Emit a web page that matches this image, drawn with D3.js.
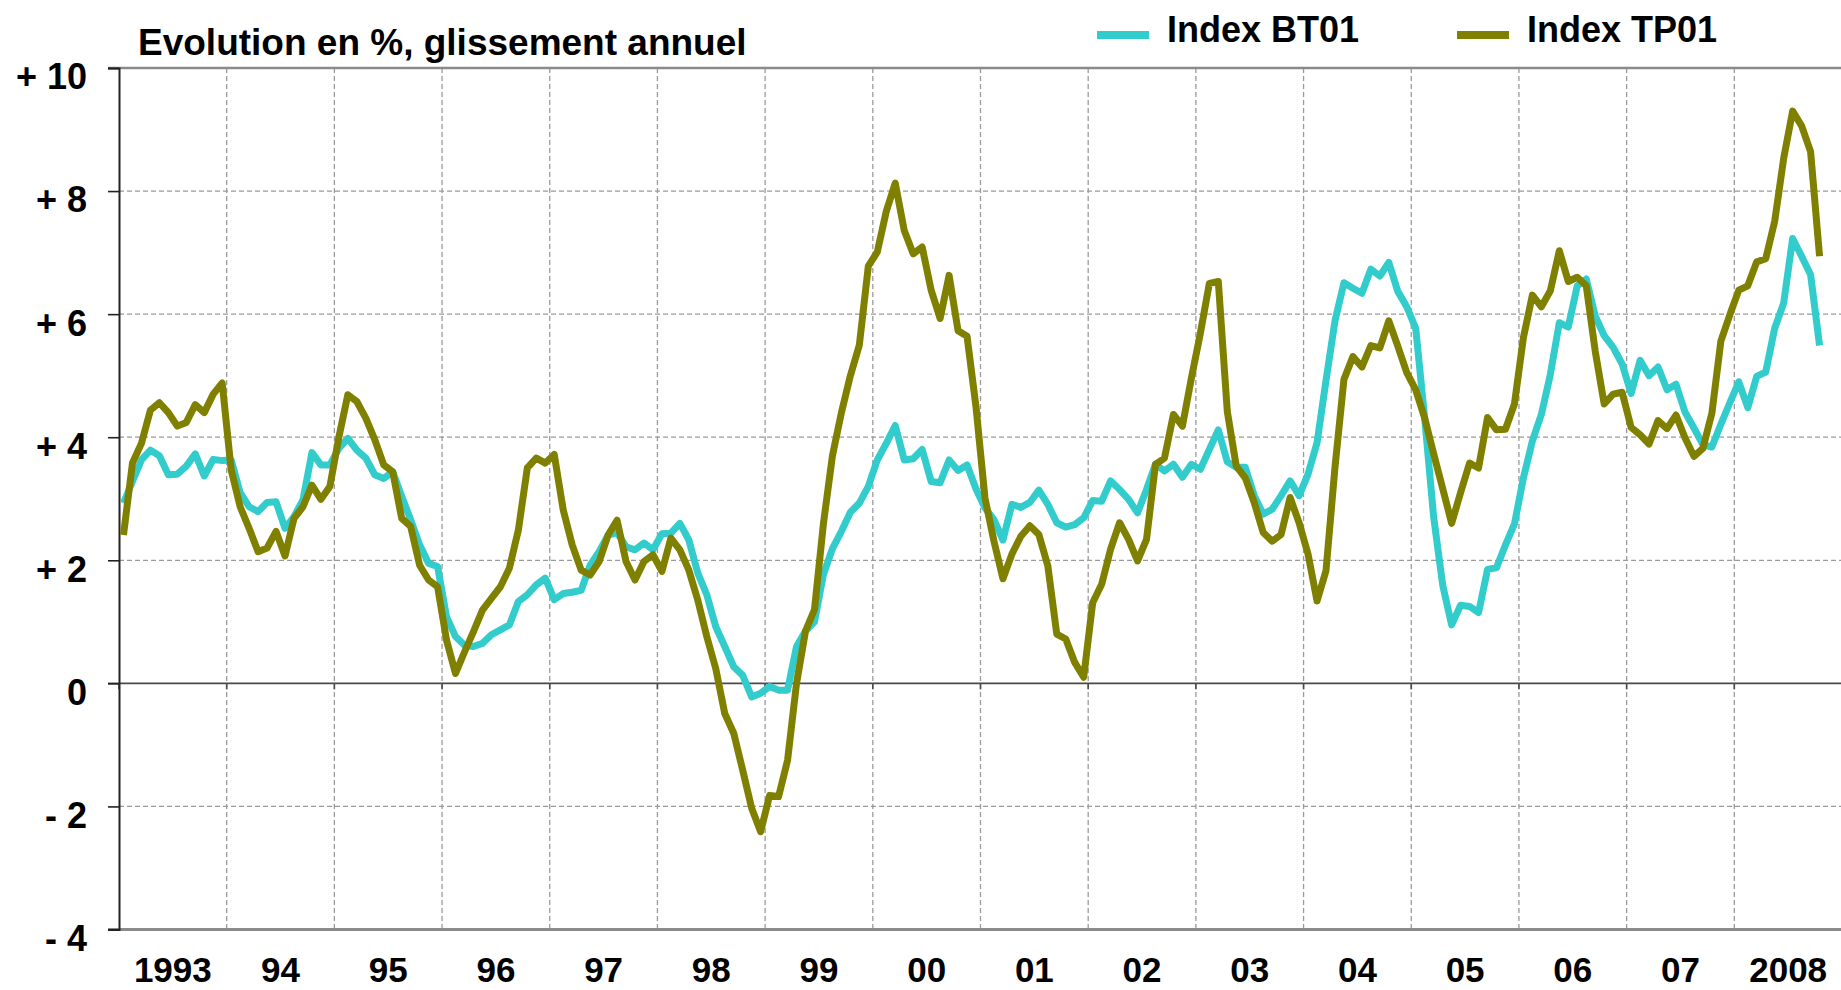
<!DOCTYPE html>
<html>
<head>
<meta charset="utf-8">
<script src="https://cdn.jsdelivr.net/npm/d3@7/dist/d3.min.js"></script>
<style>
  html, body { margin: 0; padding: 0; background: #ffffff; }
  svg { display: block; }
  text { font-family: "Liberation Sans", Arial, sans-serif; font-weight: bold; fill: #000; }
</style>
</head>
<body>
<svg id="chart" width="1841" height="990"></svg>
<script>
// ---------------- DATA ----------------
const startYear = 1993;
const yearLabels = ["1993","94","95","96","97","98","99","00","01","02","03","04","05","06","07","2008"];
const yTicks = [10, 8, 6, 4, 2, 0, -2, -4];
const yTickLabels = ["+ 10","+ 8","+ 6","+ 4","+ 2","0","- 2","- 4"];
const seriesNames = ["Index BT01", "Index TP01"];
const chartTitle = "Evolution en %, glissement annuel";

// Monthly year-on-year change, Jan 1993 .. Oct 2008
const bt01 = [
  2.93,3.28,3.63,3.79,3.70,3.39,3.40,3.53,3.73,3.37,3.64,3.62,
  3.63,3.10,2.87,2.79,2.94,2.95,2.52,2.71,2.98,3.75,3.55,3.55,
  3.82,3.98,3.79,3.66,3.39,3.33,3.44,3.04,2.66,2.25,1.95,1.90,
  1.08,0.76,0.62,0.60,0.65,0.79,0.87,0.95,1.33,1.44,1.60,1.71,
  1.36,1.46,1.48,1.51,1.92,2.14,2.41,2.45,2.22,2.17,2.28,2.17,
  2.43,2.44,2.60,2.33,1.79,1.44,0.92,0.60,0.27,0.13,-0.22,-0.16,
  -0.05,-0.11,-0.11,0.60,0.85,1.00,1.77,2.19,2.47,2.78,2.93,3.20,
  3.63,3.90,4.19,3.63,3.65,3.80,3.28,3.26,3.63,3.46,3.55,3.16,
  2.85,2.66,2.33,2.91,2.86,2.94,3.14,2.91,2.61,2.54,2.58,2.69,
  2.97,2.96,3.29,3.15,2.99,2.77,3.15,3.56,3.45,3.56,3.35,3.56,
  3.48,3.80,4.12,3.60,3.51,3.51,3.05,2.75,2.83,3.05,3.29,3.05,
  3.40,3.91,4.92,5.89,6.51,6.42,6.34,6.73,6.62,6.84,6.37,6.12,
  5.77,4.30,2.70,1.60,0.95,1.27,1.25,1.15,1.85,1.88,2.25,2.59,
  3.34,3.94,4.37,5.02,5.86,5.79,6.46,6.57,5.97,5.65,5.46,5.19,
  4.71,5.25,5.00,5.14,4.77,4.86,4.41,4.15,3.88,3.84,4.21,4.56,
  4.90,4.48,4.99,5.06,5.77,6.18,7.23,6.94,6.64,5.49
];
const tp01 = [
  2.41,3.58,3.90,4.44,4.56,4.40,4.18,4.24,4.53,4.40,4.70,4.88,
  3.47,2.87,2.52,2.14,2.20,2.47,2.07,2.68,2.87,3.22,2.99,3.20,
  4.00,4.69,4.58,4.31,3.96,3.55,3.44,2.68,2.55,1.92,1.68,1.57,
  0.70,0.16,0.51,0.84,1.19,1.38,1.57,1.87,2.49,3.50,3.66,3.58,
  3.72,2.82,2.25,1.84,1.76,1.98,2.41,2.65,1.98,1.68,1.98,2.09,
  1.82,2.36,2.17,1.84,1.35,0.76,0.24,-0.49,-0.81,-1.41,-2.03,-2.41,
  -1.82,-1.84,-1.25,0.00,0.85,1.20,2.60,3.70,4.40,5.00,5.50,6.78,
  7.01,7.67,8.13,7.36,6.98,7.09,6.39,5.93,6.63,5.73,5.64,4.49,
  3.01,2.31,1.70,2.10,2.39,2.56,2.42,1.91,0.80,0.72,0.34,0.10,
  1.31,1.61,2.18,2.61,2.34,1.99,2.34,3.56,3.66,4.37,4.18,4.96,
  5.69,6.50,6.53,4.42,3.53,3.34,2.94,2.45,2.31,2.42,3.02,2.61,
  2.10,1.34,1.83,3.51,4.94,5.31,5.14,5.49,5.45,5.89,5.48,5.05,
  4.77,4.31,3.73,3.17,2.60,3.10,3.58,3.50,4.32,4.12,4.13,4.54,
  5.62,6.31,6.12,6.38,7.03,6.53,6.60,6.46,5.40,4.54,4.70,4.73,
  4.16,4.04,3.89,4.27,4.14,4.36,3.99,3.69,3.82,4.39,5.56,5.99,
  6.39,6.46,6.85,6.90,7.51,8.53,9.30,9.06,8.64,6.94
];
const seriesColors = ["#33CCCC", "#808000"];

// ---------------- CHART ----------------
const svg = d3.select("#chart");
const W = 1841, H = 990;
const pLeft = 119, pRight = 1842, pTop = 68, pBottom = 929.5;

const x = d3.scaleLinear().domain([startYear, startYear + yearLabels.length]).range([pLeft, pRight]);
const y = d3.scaleLinear().domain([-4, 10]).range([pBottom, pTop]);

const monthPos = i => startYear + (i + 0.5) / 12;
const years = d3.range(startYear, startYear + yearLabels.length + 1);

// horizontal dashed grid
const g = svg.append("g");
g.selectAll("line.hgrid")
  .data(yTicks.filter(v => v !== 0 && v !== 10 && v !== -4))
  .join("line")
  .attr("x1", pLeft).attr("x2", W)
  .attr("y1", d => y(d)).attr("y2", d => y(d))
  .attr("stroke", "#9a9a9a").attr("stroke-width", 1.3)
  .attr("stroke-dasharray", "5,3");

// vertical dashed grid at year boundaries
g.selectAll("line.vgrid")
  .data(years.slice(1, -1))
  .join("line")
  .attr("x1", d => x(d)).attr("x2", d => x(d))
  .attr("y1", pTop).attr("y2", pBottom)
  .attr("stroke", "#9a9a9a").attr("stroke-width", 1.3)
  .attr("stroke-dasharray", "5,3");

// top border
g.append("line").attr("x1", pLeft - 11).attr("x2", W)
  .attr("y1", y(10)).attr("y2", y(10))
  .attr("stroke", "#8a8a8a").attr("stroke-width", 2.5);
// bottom border
g.append("line").attr("x1", pLeft - 11).attr("x2", W)
  .attr("y1", y(-4)).attr("y2", y(-4))
  .attr("stroke", "#8a8a8a").attr("stroke-width", 3);

// zero line with year ticks
g.append("line").attr("x1", pLeft - 11).attr("x2", W)
  .attr("y1", y(0)).attr("y2", y(0))
  .attr("stroke", "#4a4a4a").attr("stroke-width", 1.6);
g.selectAll("line.ztick")
  .data(years.slice(0, -1))
  .join("line")
  .attr("x1", d => x(d)).attr("x2", d => x(d))
  .attr("y1", y(0)).attr("y2", y(0) + 6)
  .attr("stroke", "#4a4a4a").attr("stroke-width", 1.6);

// left axis
const yAxis = d3.axisLeft(y)
  .tickValues(yTicks)
  .tickSize(11)
  .tickFormat((d, i) => yTickLabels[i]);
const ya = svg.append("g").attr("transform", `translate(${pLeft},0)`).call(yAxis);
ya.select(".domain").attr("stroke", "#222").attr("stroke-width", 2);
ya.selectAll(".tick line").attr("stroke", "#222").attr("stroke-width", 1.6);
ya.selectAll(".tick text")
  .attr("x", -32)
  .attr("dy", "0.58em")
  .attr("font-size", 36)
  .attr("font-family", "Liberation Sans, Arial, sans-serif")
  .attr("font-weight", "bold")
  .attr("fill", "#000");

// x labels (centered in each year)
svg.append("g").selectAll("text")
  .data(yearLabels)
  .join("text")
  .attr("x", (d, i) => x(startYear + i + 0.5))
  .attr("y", 982)
  .attr("text-anchor", "middle")
  .attr("font-size", 35)
  .text(d => d);

// lines
const line = d3.line()
  .x((d, i) => x(monthPos(i)))
  .y(d => y(d));

[bt01, tp01].forEach((data, k) => {
  svg.append("path")
    .datum(data)
    .attr("fill", "none")
    .attr("stroke", seriesColors[k])
    .attr("stroke-width", 7)
    .attr("stroke-linejoin", "round")
    .attr("d", line);
});

// title
svg.append("text")
  .attr("x", 138).attr("y", 55)
  .attr("font-size", 37)
  .text(chartTitle);

// legend
const legendX = [1097, 1457];
seriesNames.forEach((name, k) => {
  svg.append("line")
    .attr("x1", legendX[k]).attr("x2", legendX[k] + 52)
    .attr("y1", 35).attr("y2", 35)
    .attr("stroke", seriesColors[k]).attr("stroke-width", 8);
  svg.append("text")
    .attr("x", legendX[k] + 70).attr("y", 42)
    .attr("font-size", 36)
    .text(name);
});
</script>
</body>
</html>
